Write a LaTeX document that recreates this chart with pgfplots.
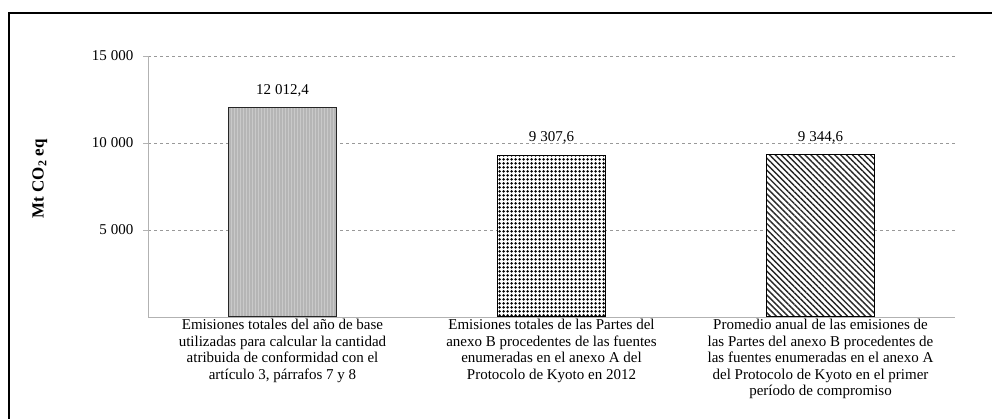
\documentclass[border=0pt]{standalone}
\usepackage{pgfplots}
\pgfplotsset{compat=1.18}
\usepackage{fontspec}
\setmainfont{Liberation Serif}
\usetikzlibrary{patterns.meta}
\begin{document}
\begin{tikzpicture}
\useasboundingbox (0,0) rectangle (992pt,419pt);
\draw[line width=1.5pt] (9pt,-5pt) -- (9pt,406pt) -- (1000pt,406pt);
\begin{axis}[
  at={(148pt,102pt)}, anchor=south west,
  scale only axis, width=807pt, height=261pt,
  xmin=-0.5, xmax=2.5, ymin=0, ymax=15000,
  axis lines*=left,
  axis line style={gray!60, line width=0.8pt},
  ytick={5000,10000,15000},
  scaled y ticks=false,
  ymajorgrids, grid style={dashed, gray!80, line width=0.7pt},
  major tick style={gray!60, line width=0.8pt},
  tick align=outside, major tick length=5pt,
  xtick={0,1,2}, xticklabels={},
  extra x ticks={-0.5,0.5,1.5,2.5}, extra x tick labels={},
  extra x tick style={major tick length=5pt, grid=none},
  xtick style={draw=none},
  /pgf/number format/assume math mode=true,
  /pgf/number format/.cd, use comma, 1000 sep={\hspace{0.28em}},
  /pgfplots/.cd,
  tick label style={font=\fontsize{15}{17}\selectfont},
  yticklabel style={xshift=-6pt},
  ylabel={\textbf{Mt CO\textsubscript{2} eq}},
  ylabel style={at={(axis description cs:-0.134,0.53)}, anchor=center, font=\fontsize{17}{19}\selectfont},
  bar width=108pt,
  nodes near coords={\pgfmathprintnumber[fixed, fixed zerofill, precision=1, use comma, 1000 sep={\hspace{0.28em}}, assume math mode=true]{\pgfplotspointmeta}},
  nodes near coords style={font=\fontsize{15}{17}\selectfont, yshift=7pt},
  clip=false,
]
\addplot[ybar, draw=black!85, line width=1pt, fill=gray!58,
  postaction={pattern={Lines[angle=90, distance=3pt, line width=0.4pt]}, pattern color=gray!42}]
  coordinates {(0,12012.4)};
\addplot[ybar, draw=black, line width=1pt, fill=white,
  postaction={pattern={Dots[distance=4pt, radius=1.75pt]}, pattern color=black}]
  coordinates {(1,9307.6)};
\addplot[ybar, draw=black, line width=1pt, fill=white,
  postaction={pattern={Lines[angle=-45, distance=4.2pt, line width=1.4pt]}, pattern color=black!85}]
  coordinates {(2,9344.6)};
\end{axis}
\begin{scope}[every node/.style={font=\fontsize{15}{16.4}\selectfont, align=center, anchor=north}]
\node at (282.5pt,103pt) {Emisiones totales del año de base\\utilizadas para calcular la cantidad\\atribuida de conformidad con el\\artículo 3, párrafos 7 y 8};
\node at (551.5pt,103pt) {Emisiones totales de las Partes del\\anexo B procedentes de las fuentes\\enumeradas en el anexo A del\\Protocolo de Kyoto en 2012};
\node at (820.5pt,103pt) {Promedio anual de las emisiones de\\las Partes del anexo B procedentes de\\las fuentes enumeradas en el anexo A\\del Protocolo de Kyoto en el primer\\período de compromiso};
\end{scope}
\end{tikzpicture}
\end{document}
